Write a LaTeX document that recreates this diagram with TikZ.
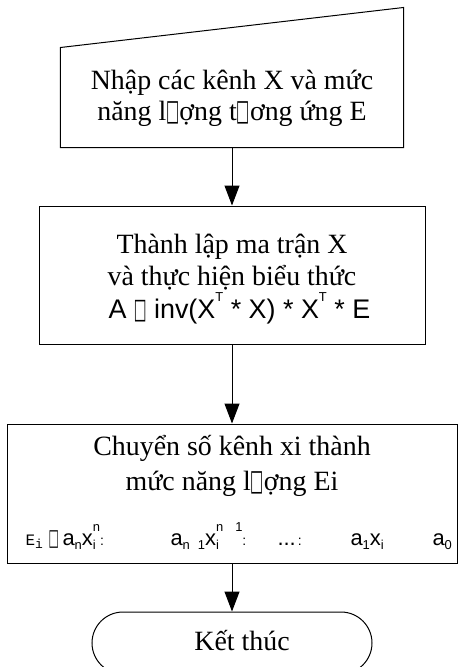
\documentclass[tikz,border=0pt]{standalone}
\usepackage{fontspec}
\setmainfont{Liberation Serif}
\newfontfamily\arialf{Liberation Sans}
\newfontfamily\monof{Liberation Mono}
\newfontfamily\boxf{DejaVu Sans}
\usetikzlibrary{arrows.meta,calc}
\newcommand\nb{\scalebox{0.5}[1.05]{\boxf\symbol{"25A1}}}
\newcommand\lo[1]{\raisebox{-0.22em}{\fontsize{13}{13}\selectfont #1}}
\newcommand\hi[1]{\raisebox{0.6em}{\fontsize{13}{13}\selectfont #1}}
\newcommand\both[2]{\rlap{\lo{#1}}\hi{#2}}
\newcommand\dt{{\fontsize{14}{14}\selectfont :}}
\begin{document}
\begin{tikzpicture}[x=1bp,y=-1bp,line width=1bp,
  arr/.style={-{Triangle[width=15bp,length=20bp]}},
  txt/.style={anchor=base,inner sep=0pt,font=\fontsize{28}{32}\selectfont},
  frm/.style={anchor=base west,inner sep=0pt,font=\arialf\fontsize{22}{26}\selectfont},
  procbox/.style={draw,rectangle,inner sep=0pt}]
\useasboundingbox (0,0) rectangle (458,667);
% shapes
\node[inner sep=0pt,minimum width=342bp,minimum height=99bp] (b1) at (232,97.5) {};
\draw (b1.south west) -- (b1.north west) -- ($(b1.north east)+(0,-40)$) -- (b1.south east) -- cycle;
\node[procbox,minimum width=385bp,minimum height=138bp] (b2) at (232.5,275) {};
\node[procbox,minimum width=449bp,minimum height=139bp] (b3) at (232.5,493.5) {};
\node[draw,rounded corners=31bp,minimum width=280bp,minimum height=62bp,inner sep=0pt] (b4) at (232,643) {};
% connectors
\draw[arr] (b1.south) -- (b1.south |- b2.north);
\draw[arr] (b2.south -| b1.south) -- (b1.south |- b3.north);
\draw[arr] (b3.south -| b1.south) -- (b1.south |- b4.north);
% texts
\node[txt] (t1a) at (232,90) {Nhập các kênh X và mức};
\node[txt] (t1b) at (232,121) {năng l\nb ợng t\nb ơng ứng E};
\node[txt] (t2a) at (232,253) {Thành lập ma trận X};
\node[txt] (t2b) at (232,285) {và thực hiện biểu thức};
\node[frm,font=\arialf\fontsize{27}{30}\selectfont] (t2c) at (108,318) {A \nb\ inv(X\hi{T} * X) * X\hi{T} * E};
\node[txt] (t3a) at (232,455) {Chuyển số kênh xi thành};
\node[txt] (t3b) at (232,490) {mức năng l\nb ợng Ei};
\node[frm,font=\monof\fontsize{16}{18}\selectfont] (f1) at (25,545) {E\lo{i}};
\node[frm] (f2) at (48,545) {\nb};
\node[frm] (f3) at (62,545) {a\lo{n}x\both{i}{n}\dt};
\node[frm] (f4) at (170,545) {a\lo{n\hspace{8bp}1}x\both{i}{n\hspace{12bp}1}\dt};
\node[frm] (f5) at (277,545) {...\kern2bp\dt};
\node[frm] (f6) at (350,545) {a\lo{1}x\lo{i}};
\node[frm] (f7) at (432,545) {a\lo{0}};
\node[anchor=base,inner sep=0pt,font=\fontsize{28}{32}\selectfont] (t4) at (242,650) {Kết thúc};
\end{tikzpicture}
\end{document}
